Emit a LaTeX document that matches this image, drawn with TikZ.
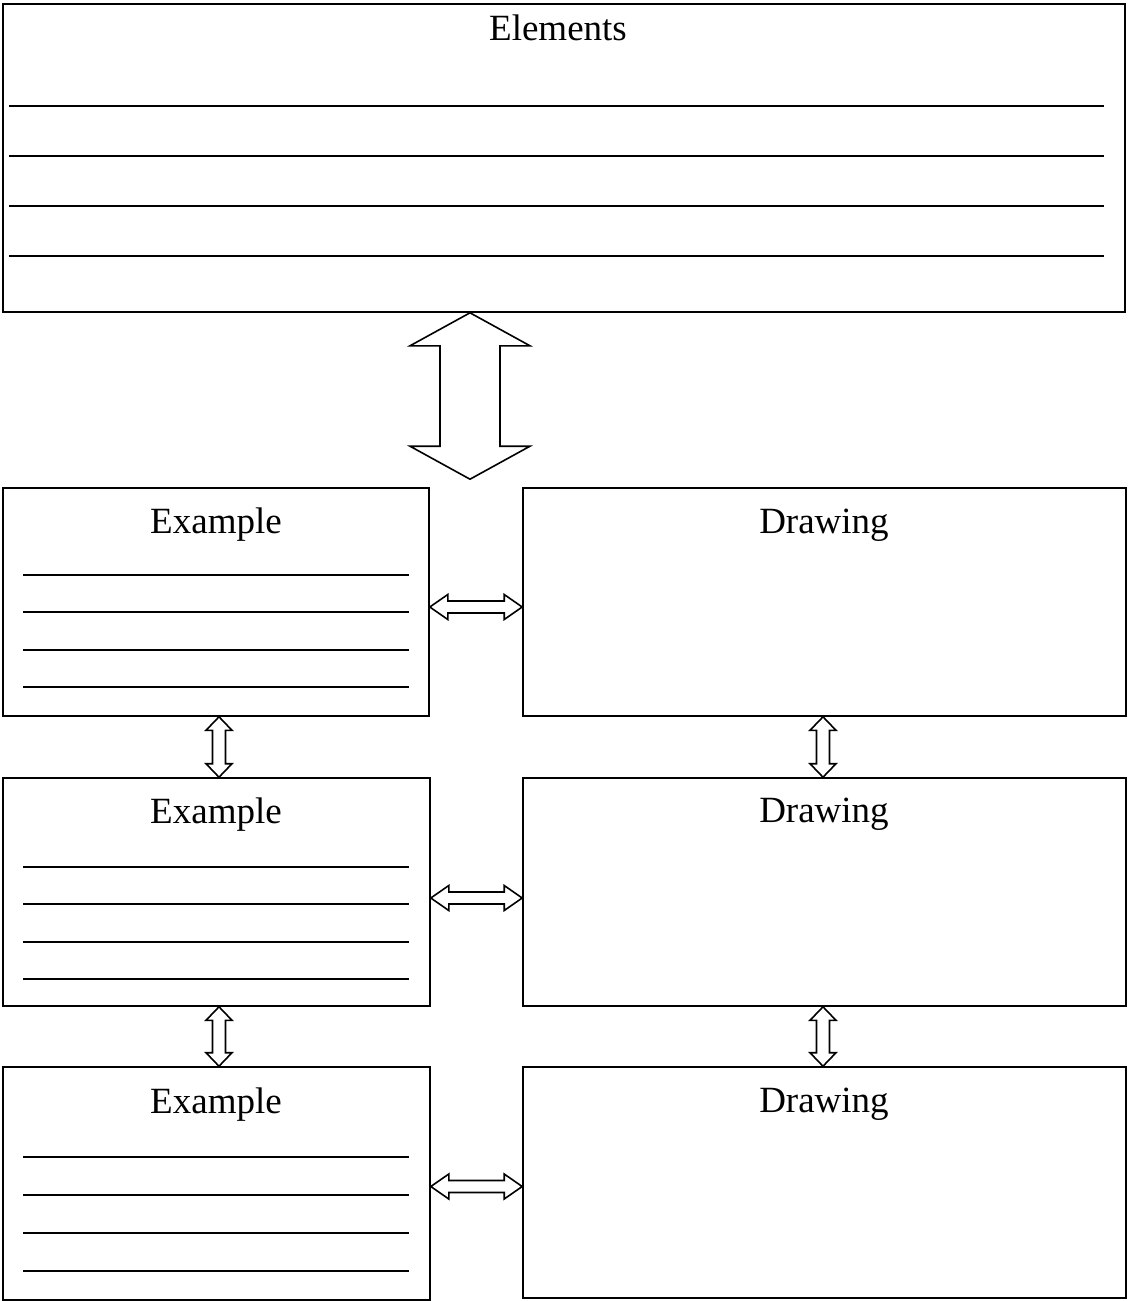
\documentclass[tikz,border=0pt]{standalone}
\usepackage{fontspec}
\setmainfont{Liberation Serif}
\usetikzlibrary{calc}
\tikzset{
  box/.style={draw, line width=1.6pt, inner sep=0pt},
  rule/.style={line width=1.4pt},
  title/.style={anchor=base, inner sep=0pt, font=\fontsize{37}{40}\selectfont},
  darrow/.style={draw, line width=1.6pt, fill=white, line join=miter},
}
\begin{document}
\begin{tikzpicture}[x=1pt,y=-1pt]
\useasboundingbox (0,0) rectangle (1128,1301);
% boxes
\node[box, minimum width=1122pt, minimum height=308pt] (el) at (564,158) {};
\node[box, minimum width=426pt, minimum height=228pt] (e1) at (216,602) {};
\node[box, minimum width=603pt, minimum height=228pt] (d1) at (824.5,602) {};
\node[box, minimum width=427pt, minimum height=228pt] (e2) at (216.5,892) {};
\node[box, minimum width=603pt, minimum height=228pt] (d2) at (824.5,892) {};
\node[box, minimum width=427pt, minimum height=233pt] (e3) at (216.5,1183.5) {};
\node[box, minimum width=603pt, minimum height=231pt] (d3) at (824.5,1182.5) {};
% titles
\node[title] (tel) at (558,40) {Elements};
\node[title] (te1) at (216,533) {Example};
\node[title] (td1) at (824,533) {Drawing};
\node[title] (te2) at (216,823) {Example};
\node[title] (td2) at (824,822) {Drawing};
\node[title] (te3) at (216,1113) {Example};
\node[title] (td3) at (824,1112) {Drawing};
% ruled lines
\foreach \y in {106,156,206,256} \draw[rule] (9,\y) -- (1104,\y);
\foreach \y in {575,612,650,687} \draw[rule] (23,\y) -- (409,\y);
\foreach \y in {867,904,942,979} \draw[rule] (23,\y) -- (409,\y);
\foreach \y in {1157,1195,1233,1271} \draw[rule] (23,\y) -- (409,\y);
% big vertical double arrow
\path[darrow] let \p1=(el.south), \p2=($(e1.north)!0.5!(d1.north)+(-7,-8)$),
  \p1=(470pt,\y1), \p2=(470pt,\y2) in
  (\p1) -- (\x1+60pt,\y1-33pt) -- (\x1+30pt,\y1-33pt) -- (\x2+30pt,\y2+33pt) -- (\x2+60pt,\y2+33pt)
  -- (\p2) -- (\x2-60pt,\y2+33pt) -- (\x2-30pt,\y2+33pt) -- (\x1-30pt,\y1-33pt) -- (\x1-60pt,\y1-33pt) -- cycle;
% horizontal double arrows
\foreach \a/\b/\dy in {e1/d1/5, e2/d2/6, e3/d3/3}{
  \path[darrow] let \p1=($(\a.east)+(0,\dy)$), \p2=($(\b.west)+(0,\dy)$), \p2=(\x2,\y1) in
    (\p1) -- (\x1+18pt,\y1+12.5pt) -- (\x1+18pt,\y1+6pt) -- (\x2-18pt,\y2+6pt) -- (\x2-18pt,\y2+12.5pt)
    -- (\p2) -- (\x2-18pt,\y2-12.5pt) -- (\x2-18pt,\y2-6pt) -- (\x1+18pt,\y1-6pt) -- (\x1+18pt,\y1-12.5pt) -- cycle;
}
% vertical small double arrows
\foreach \a/\b/\xx in {e1/e2/219, e2/e3/219, d1/d2/823, d2/d3/823}{
  \path[darrow] let \p1=(\a.south), \p2=(\b.north), \p1=(\xx pt,\y1), \p2=(\xx pt,\y2) in
    (\p1) -- (\x1+13pt,\y1-13.5pt) -- (\x1+6.5pt,\y1-13.5pt) -- (\x2+6.5pt,\y2+13.5pt) -- (\x2+13pt,\y2+13.5pt)
    -- (\p2) -- (\x2-13pt,\y2+13.5pt) -- (\x2-6.5pt,\y2+13.5pt) -- (\x1-6.5pt,\y1-13.5pt) -- (\x1-13pt,\y1-13.5pt) -- cycle;
}
\end{tikzpicture}
\end{document}
